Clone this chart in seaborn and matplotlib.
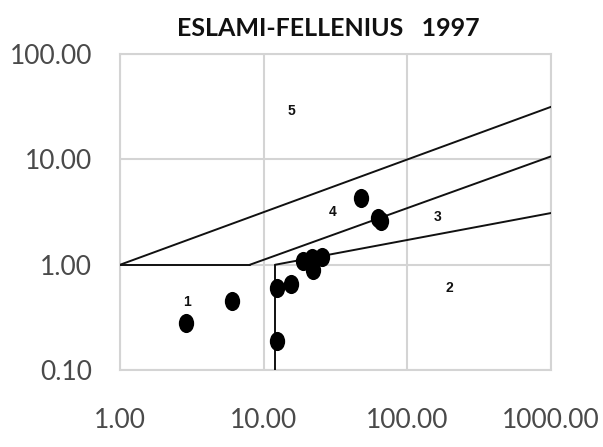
import matplotlib
matplotlib.use("Agg")
import matplotlib.pyplot as plt
import seaborn as sns
import pandas as pd
from matplotlib.path import Path
from matplotlib.transforms import Affine2D

# data points
pts_x = [2.9, 6.0, 12.4, 12.4, 15.6, 18.8, 22.1, 21.8, 25.6, 47.5, 62.0, 65.0]
pts_y = [0.28, 0.45, 0.19, 0.60, 0.66, 1.09, 0.90, 1.15, 1.19, 4.35, 2.78, 2.60]

# boundary lines (x, y endpoints)
lineA_x = [1, 1000]; lineA_y = [1, 31.6]
lineB_x = [8, 1000]; lineB_y = [1, 10.7]
lineC_x = [12, 1000]; lineC_y = [1, 3.1]
horiz_x = [1, 8]; horiz_y = [1, 1]
vert_x = [12, 12]; vert_y = [0.1, 1]

zone_labels = ["1", "2", "3", "4", "5"]
zone_x = [2.93, 196, 162, 30, 15.5]
zone_y = [0.44, 0.60, 2.87, 3.2, 28.6]

xticks = [1, 10, 100, 1000]
yticks = [0.1, 1, 10, 100]
xtick_labels = ["1.00", "10.00", "100.00", "1000.00"]
ytick_labels = ["0.10", "1.00", "10.00", "100.00"]

title = "ESLAMI-FELLENIUS   1997"

sns.set_style("white")
plt.rcParams['font.family'] = ['Lato', 'DejaVu Sans']

fig = plt.figure(figsize=(6.03, 4.47), dpi=100)
ax = fig.add_axes([0.199, 0.172, 0.715, 0.707])
ax.set_xscale("log")
ax.set_yscale("log")

for lx, ly in [(lineA_x, lineA_y), (lineB_x, lineB_y), (lineC_x, lineC_y),
               (horiz_x, horiz_y), (vert_x, vert_y)]:
    sns.lineplot(x=lx, y=ly, ax=ax, color="#111111", linewidth=1.4, sort=False,
                 estimator=None, zorder=3)

ell = Path.unit_circle().transformed(Affine2D().scale(0.8, 1.0))
df = pd.DataFrame({"x": pts_x, "y": pts_y})
sns.scatterplot(data=df, x="x", y="y", ax=ax, marker=ell, s=190, color="black",
                edgecolor="black", linewidth=0, zorder=4)

for t, x, y in zip(zone_labels, zone_x, zone_y):
    ax.text(x, y, t, ha="center", va="center", fontsize=10, fontweight="bold",
            family=["Liberation Sans", "DejaVu Sans"], color="#111111")

ax.set_xlim(1, 1000)
ax.set_ylim(0.1, 100)
ax.set_xticks(xticks)
ax.set_xticklabels(xtick_labels)
ax.set_yticks(yticks)
ax.set_yticklabels(ytick_labels)
ax.minorticks_off()
ax.tick_params(axis="both", length=0, labelsize=19, colors="#4a4a4a")
ax.tick_params(axis="x", pad=27)
ax.tick_params(axis="y", pad=20)
ax.grid(True, color="#d4d4d4", linewidth=1.5)
for sp in ax.spines.values():
    sp.set_color("#d4d4d4")
    sp.set_linewidth(1.5)
ax.set_xlabel("")
ax.set_ylabel("")
fig.text(0.544, 0.936, title, ha="center", va="center", fontsize=18,
         fontweight="bold", color="#111111")

fig.savefig("out.png", dpi=100)
